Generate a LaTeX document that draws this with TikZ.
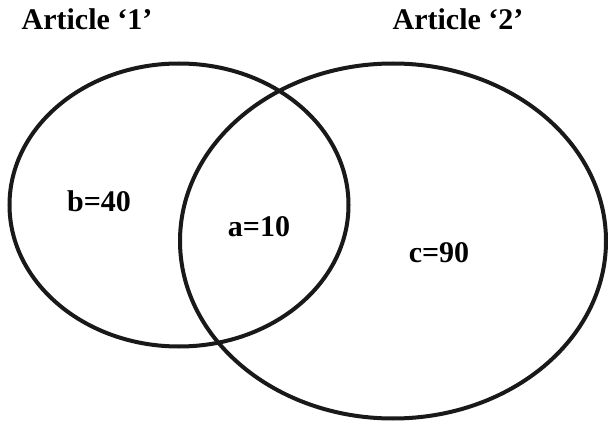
\documentclass[tikz,border=0pt]{standalone}
\usepackage{fontspec}
\setmainfont{Liberation Serif}
\begin{document}
\begin{tikzpicture}[x=1pt,y=-1pt,
  lbl/.style={font=\fontsize{30}{30}\selectfont\bfseries, anchor=base, inner sep=0pt},
  set/.style={line width=4pt, black!90}]
\useasboundingbox (0,0) rectangle (608,422);
\draw[set] (179,205) ellipse [x radius=169.5, y radius=141.5];
\draw[set] (393,241) ellipse [x radius=213, y radius=177.5];
\node[lbl] (t1) at (87,30) {Article ‘1’};
\node[lbl] (t2) at (458,30) {Article ‘2’};
\node[lbl] (b) at (99,212) {b=40};
\node[lbl] (a) at (259,237) {a=10};
\node[lbl] (c) at (439,263) {c=90};
\end{tikzpicture}
\end{document}
